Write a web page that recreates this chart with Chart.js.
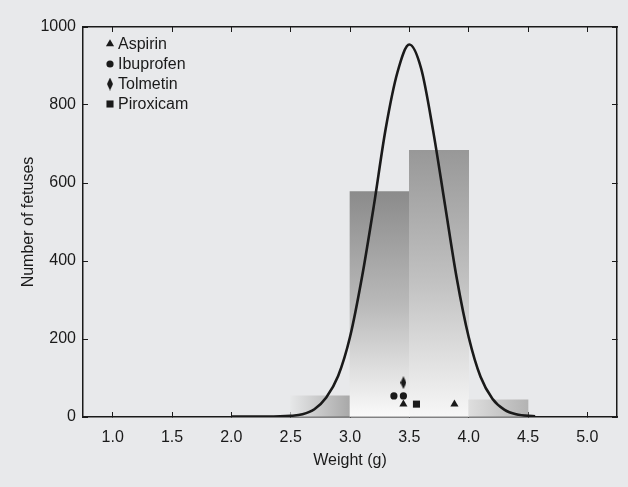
<!DOCTYPE html>
<html>
<head>
<meta charset="utf-8">
<script src="https://cdn.jsdelivr.net/npm/chart.js@4.4.0/dist/chart.umd.min.js"></script>
<style>
html, body { margin: 0; padding: 0; background: #e8e9eb; }
#wrap { position: relative; width: 628px; height: 487px; }
</style>
</head>
<body>
<div id="wrap"><canvas id="weights"></canvas></div>
<script>
// histogram bins (g) and counts
const binStarts = [2.5, 3.0, 3.5, 4.0];
const binWidth = 0.5;
const fetusCounts = [54, 578, 684, 44];

// fitted curve
const curveWeights = [2.0, 2.3, 2.5, 2.6, 2.7, 2.8, 2.9, 3.0, 3.1, 3.2, 3.3, 3.4, 3.5, 3.6, 3.7, 3.8, 3.9, 4.0, 4.1, 4.2, 4.3, 4.4, 4.56];
const curveCounts = [1, 1, 3, 7, 20, 50, 105, 205, 357, 540, 738, 884, 955, 893, 735, 545, 355, 205, 103, 47, 19, 7, 2];

// drug-exposed fetuses
const drugNames = ['Aspirin', 'Ibuprofen', 'Tolmetin', 'Piroxicam'];
const drugWeights = [[3.45, 3.88], [3.37, 3.45], [3.45], [3.56]];
const drugCounts = [[33, 33], [54, 54], [88], [33]];

const weightTicks = [1.0, 1.5, 2.0, 2.5, 3.0, 3.5, 4.0, 4.5, 5.0];
const countTicks = [0, 200, 400, 600, 800, 1000];

const ink = '#1a1a1a';

// shading of each bar
const barShades = [
    { dir: 'h', stops: ['#e6e7e8', '#a8a8a8'] },
    { dir: 'v', stops: ['#8b8b8b', '#b9b9b9', '#fafafa'] },
    { dir: 'v', stops: ['#989898', '#c2c2c2', '#f7f7f7'] },
    { dir: 'h', stops: ['#dedede', '#b3b3b3'] }
];

const makeDiamond = (w, h) => {
    const c = document.createElement('canvas');
    c.width = w; c.height = h;
    const g = c.getContext('2d');
    g.fillStyle = ink;
    g.beginPath();
    g.moveTo(w / 2, 0); g.lineTo(w, h / 2); g.lineTo(w / 2, h); g.lineTo(0, h / 2);
    g.closePath(); g.fill();
    return c;
};

const drugStyles = ['triangle', 'circle', makeDiamond(6, 13), 'rect'];
const drugRadius = [4.7, 3.6, 5, 5];

const barFill = (c) => {
    const chart = c.chart;
    if (!chart.chartArea) return '#aaaaaa';
    const i = c.dataIndex;
    const xs = chart.scales.x, ys = chart.scales.y;
    const shade = barShades[i];
    let grad;
    if (shade.dir === 'h') {
        grad = chart.ctx.createLinearGradient(xs.getPixelForValue(binStarts[i]), 0, xs.getPixelForValue(binStarts[i] + binWidth), 0);
    } else {
        grad = chart.ctx.createLinearGradient(0, ys.getPixelForValue(fetusCounts[i]), 0, ys.getPixelForValue(0));
    }
    shade.stops.forEach((col, k) => grad.addColorStop(k / (shade.stops.length - 1), col));
    return grad;
};

const insideLegend = {
    id: 'insideLegend',
    afterDatasetsDraw(chart) {
        const { ctx, chartArea } = chart;
        ctx.save();
        ctx.font = '16px "Liberation Sans", Arial, sans-serif';
        ctx.textBaseline = 'middle';
        drugNames.forEach((name, i) => {
            const x = chartArea.left + 27;
            const y = chartArea.top + 17 + i * 20;
            ctx.fillStyle = ink;
            ctx.strokeStyle = ink;
            Chart.helpers.drawPoint(ctx, { pointStyle: drugStyles[i], radius: drugRadius[i], borderWidth: 0, rotation: 0 }, x, y);
            ctx.fillStyle = ink;
            ctx.fillText(name, x + 8, y + 1);
        });
        ctx.restore();
    }
};

const frameGrid = { drawOnChartArea: false, drawTicks: true, tickLength: -5, color: ink, lineWidth: 1, offset: false };
const frameBorder = { display: true, color: ink, width: 1.5 };
const setTicks = (list) => (s) => { s.ticks = list.map(v => ({ value: v })); };

Chart.defaults.font.family = '"Liberation Sans", Arial, sans-serif';
Chart.defaults.font.size = 16;
Chart.defaults.color = ink;

const datasets = [
    {
        type: 'bar',
        label: 'Fetuses',
        data: binStarts.map((b, i) => ({ x: b + binWidth / 2, y: fetusCounts[i] })),
        backgroundColor: barFill,
        borderWidth: 0,
        barPercentage: 1,
        categoryPercentage: 1,
        order: 3
    },
    {
        type: 'line',
        label: 'Fit',
        data: curveWeights.map((w, i) => ({ x: w, y: curveCounts[i] })),
        borderColor: ink,
        borderWidth: 2.6,
        pointRadius: 0,
        fill: false,
        cubicInterpolationMode: 'monotone',
        order: 2
    }
];

drugNames.forEach((name, i) => {
    datasets.push({
        type: 'scatter',
        label: name,
        data: drugWeights[i].map((w, k) => ({ x: w, y: drugCounts[i][k] })),
        pointStyle: drugStyles[i],
        pointRadius: drugRadius[i],
        backgroundColor: ink,
        borderWidth: 0,
        order: 1
    });
});

new Chart(document.getElementById('weights'), {
    data: { datasets: datasets },
    options: {
        responsive: true,
        maintainAspectRatio: false,
        animation: false,
        layout: { padding: 0 },
        plugins: {
            legend: { display: false },
            tooltip: { enabled: false }
        },
        scales: {
            x: {
                type: 'linear', position: 'bottom', min: 0.75, max: 5.25, offset: false,
                afterBuildTicks: setTicks(weightTicks),
                ticks: { padding: 16, callback: v => Number(v).toFixed(1) },
                grid: frameGrid, border: frameBorder,
                title: { display: true, text: 'Weight (g)', padding: { top: 17, bottom: 17 } },
                afterFit: s => { s.height = 70; }
            },
            x2: {
                type: 'linear', position: 'top', min: 0.75, max: 5.25, offset: false,
                afterBuildTicks: setTicks(weightTicks),
                ticks: { display: false },
                grid: frameGrid, border: frameBorder,
                afterFit: s => { s.height = 27; }
            },
            y: {
                type: 'linear', position: 'left', min: 0, max: 1000,
                afterBuildTicks: setTicks(countTicks),
                ticks: { padding: 12, callback: v => String(v) },
                grid: frameGrid, border: frameBorder,
                title: { display: true, text: 'Number of fetuses', padding: 19 },
                afterFit: s => { s.width = 83; }
            },
            y2: {
                type: 'linear', position: 'right', min: 0, max: 1000,
                afterBuildTicks: setTicks(countTicks),
                ticks: { display: false },
                grid: frameGrid, border: frameBorder,
                afterFit: s => { s.width = 11; }
            }
        }
    },
    plugins: [insideLegend]
});
</script>
</body>
</html>
